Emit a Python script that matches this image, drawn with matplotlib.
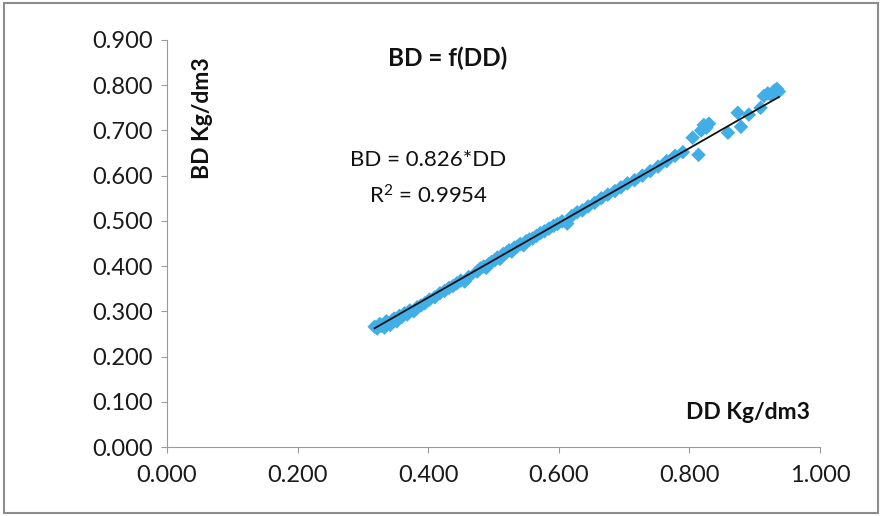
import numpy as np
import matplotlib
matplotlib.use('Agg')
import matplotlib.pyplot as plt
from matplotlib.patches import Rectangle

plt.rcParams['font.family'] = ['Lato', 'DejaVu Sans']
plt.rcParams['mathtext.fontset'] = 'custom'
plt.rcParams['mathtext.rm'] = 'Lato'
plt.rcParams['mathtext.it'] = 'Lato:italic'
plt.rcParams['mathtext.bf'] = 'Lato:bold'

dd = [0.318, 0.322, 0.326, 0.329, 0.333, 0.336, 0.339, 0.342, 0.345, 0.348,
      0.352, 0.356, 0.360, 0.364, 0.368, 0.372, 0.378, 0.383, 0.389, 0.395,
      0.402, 0.410, 0.418, 0.425, 0.432, 0.438, 0.444, 0.450, 0.456, 0.462,
      0.475, 0.480, 0.485, 0.489, 0.493, 0.497, 0.502, 0.506, 0.510, 0.515,
      0.520, 0.524, 0.528, 0.532, 0.536, 0.541, 0.546, 0.550, 0.555, 0.560,
      0.566, 0.572, 0.578, 0.585, 0.592, 0.598, 0.605, 0.613, 0.620, 0.628,
      0.636, 0.645, 0.655, 0.665, 0.675, 0.686, 0.695, 0.705, 0.716, 0.728,
      0.740, 0.752, 0.765, 0.778, 0.790, 0.805, 0.814, 0.818, 0.822, 0.826,
      0.830, 0.859, 0.874, 0.879, 0.891, 0.909, 0.914, 0.920, 0.925, 0.930,
      0.934, 0.937]
bd = [0.266, 0.262, 0.272, 0.268, 0.264, 0.278, 0.274, 0.270, 0.280, 0.284,
      0.278, 0.290, 0.288, 0.296, 0.293, 0.302, 0.300, 0.309, 0.313, 0.318,
      0.326, 0.331, 0.340, 0.345, 0.352, 0.356, 0.362, 0.368, 0.366, 0.376,
      0.388, 0.395, 0.399, 0.396, 0.405, 0.409, 0.413, 0.419, 0.416, 0.427,
      0.430, 0.435, 0.432, 0.441, 0.443, 0.449, 0.446, 0.455, 0.459, 0.461,
      0.467, 0.473, 0.477, 0.483, 0.489, 0.493, 0.499, 0.494, 0.511, 0.519,
      0.523, 0.532, 0.540, 0.550, 0.558, 0.566, 0.574, 0.583, 0.590, 0.600,
      0.610, 0.620, 0.632, 0.644, 0.652, 0.684, 0.646, 0.700, 0.712, 0.706,
      0.715, 0.695, 0.739, 0.708, 0.735, 0.750, 0.776, 0.782, 0.778, 0.788,
      0.792, 0.786]

slope = 0.826
xticks = [0.0, 0.2, 0.4, 0.6, 0.8, 1.0]
yticks = [0.0, 0.1, 0.2, 0.3, 0.4, 0.5, 0.6, 0.7, 0.8, 0.9]

fig = plt.figure(figsize=(8.81, 5.16), dpi=100)
ax = fig.add_axes([167/881, 69/516, 653/881, 407/516])

ax.scatter(dd, bd, marker='D', s=55, color='#41aee8', edgecolors='none', zorder=2)
xl = np.array([min(dd), max(dd)])
ax.plot(xl, slope * xl, color='#111111', lw=1.3, zorder=3)

ax.set_xlim(0, 1)
ax.set_ylim(0, 0.9)
ax.set_xticks(xticks)
ax.set_yticks(yticks)
ax.set_xticklabels(['%.3f' % v for v in xticks])
ax.set_yticklabels(['%.3f' % v for v in yticks])
ax.tick_params(axis='both', labelsize=17, colors='#9a9a9a', labelcolor='#1a1a1a',
               length=4, direction='out')
ax.tick_params(axis='x', pad=9)
ax.tick_params(axis='y', pad=6)
for s in ['top', 'right']:
    ax.spines[s].set_visible(False)
for s in ['left', 'bottom']:
    ax.spines[s].set_color('#9a9a9a')

ax.text(0.43, 0.955, 'BD = f(DD)', transform=ax.transAxes, ha='center', va='center',
        fontsize=17.5, fontweight='bold', color='#111111')
ax.text(0.055, 0.808, 'BD Kg/dm3', transform=ax.transAxes, ha='center', va='center',
        rotation=90, fontsize=16.5, fontweight='bold', color='#111111')
ax.text(0.985, 0.085, 'DD Kg/dm3', transform=ax.transAxes, ha='right', va='center',
        fontsize=16.5, fontweight='bold', color='#111111')
ax.text(0.40, 0.705, 'BD = 0.826*DD', transform=ax.transAxes, ha='center', va='center',
        fontsize=16, color='#111111')
ax.text(0.40, 0.617, 'R$^{2}$ = 0.9954', transform=ax.transAxes, ha='center', va='center',
        fontsize=16, color='#111111')

fig.patches.append(Rectangle((4/881, 3/516), 874/881, 510/516, transform=fig.transFigure,
                             fill=False, edgecolor='#8c8c8c', lw=1.5))

fig.savefig('out.png', dpi=100)
